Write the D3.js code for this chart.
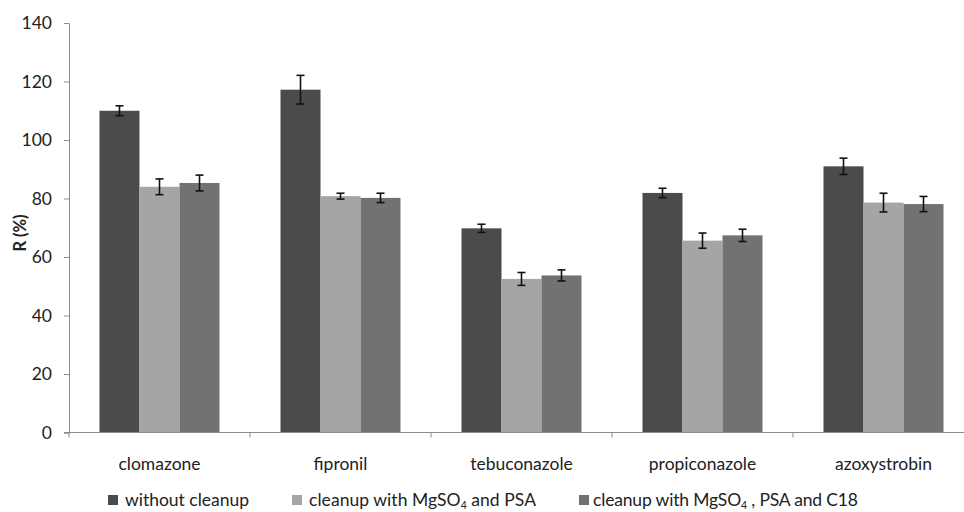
<!DOCTYPE html>
<html>
<head>
<meta charset="utf-8">
<script src="https://cdn.jsdelivr.net/npm/d3@7"></script>
<style>
  body { margin: 0; background: #fff; }
  svg { display: block; font-family: Lato, "Open Sans", sans-serif; }
</style>
</head>
<body>
<div id="chart"></div>
<script>
// Recovery by compound and cleanup procedure
const categories = ["clomazone", "fipronil", "tebuconazole", "propiconazole", "azoxystrobin"];
const seriesNames = ["without cleanup", "cleanup with MgSO4 and PSA", "cleanup with MgSO4 , PSA and C18"];
const withoutCleanup = [110.0, 117.2, 69.8, 81.9, 91.0];
const withoutCleanupErr = [1.7, 4.9, 1.4, 1.6, 2.8];
const mgso4Psa = [84.0, 80.8, 52.5, 65.6, 78.6];
const mgso4PsaErr = [2.7, 1.0, 2.2, 2.6, 3.2];
const mgso4PsaC18 = [85.3, 80.2, 53.7, 67.4, 78.1];
const mgso4PsaC18Err = [2.7, 1.6, 1.9, 2.1, 2.6];
const yTicks = [0, 20, 40, 60, 80, 100, 120, 140];

const width = 964, height = 512;
const colors = ["#4b4b4b", "#a5a5a5", "#727272"];
const fontSize = 17.5;

const values = [withoutCleanup, mgso4Psa, mgso4PsaC18];
const errors = [withoutCleanupErr, mgso4PsaErr, mgso4PsaC18Err];
const rows = [];
categories.forEach((c, i) => {
  seriesNames.forEach((s, j) => {
    rows.push({ cat: c, series: j, value: values[j][i], err: errors[j][i] });
  });
});

const svg = d3.select("#chart").append("svg")
  .attr("width", width)
  .attr("height", height);

// plot area runs past the right edge of the picture, as in the source figure
const x0 = d3.scaleBand().domain(categories).range([69, 974]).paddingInner(0).paddingOuter(0);
const x1 = d3.scaleBand().domain([0, 1, 2]).range([0, 120]);
const y = d3.scaleLinear().domain([0, 140]).range([432.5, 23]);

// Bars
svg.append("g").selectAll("rect")
  .data(rows)
  .join("rect")
  .attr("x", d => x0(d.cat) + (x0.bandwidth() - 120) / 2 + x1(d.series))
  .attr("y", d => y(d.value))
  .attr("width", x1.bandwidth())
  .attr("height", d => y(0) - y(d.value))
  .attr("fill", d => colors[d.series]);

// Error bars
const eb = svg.append("g").attr("stroke", "#111").attr("stroke-width", 1.6);
rows.forEach(d => {
  const cx = x0(d.cat) + (x0.bandwidth() - 120) / 2 + x1(d.series) + x1.bandwidth() / 2;
  eb.append("line").attr("x1", cx).attr("x2", cx).attr("y1", y(d.value + d.err)).attr("y2", y(d.value - d.err));
  eb.append("line").attr("x1", cx - 4).attr("x2", cx + 4).attr("y1", y(d.value + d.err)).attr("y2", y(d.value + d.err));
  eb.append("line").attr("x1", cx - 4).attr("x2", cx + 4).attr("y1", y(d.value - d.err)).attr("y2", y(d.value - d.err));
});

// Y axis
const yAxis = svg.append("g")
  .attr("transform", "translate(69,0)")
  .call(d3.axisLeft(y).tickValues(yTicks).tickSize(5).tickPadding(12));
yAxis.select(".domain").attr("stroke", "#8c8c8c");
yAxis.selectAll(".tick line").attr("stroke", "#8c8c8c");
yAxis.selectAll(".tick text").attr("font-size", fontSize).attr("fill", "#222")
  .attr("font-family", "Lato, 'Open Sans', sans-serif");

// X axis with ticks at category boundaries
const xAxis = svg.append("g").attr("transform", `translate(0,${y(0)})`);
xAxis.append("line").attr("x1", 64).attr("x2", 974).attr("y1", 0).attr("y2", 0).attr("stroke", "#8c8c8c");
xAxis.selectAll(".bound")
  .data(categories)
  .join("line")
  .attr("class", "bound")
  .attr("x1", d => x0(d)).attr("x2", d => x0(d))
  .attr("y1", 0).attr("y2", 5)
  .attr("stroke", "#8c8c8c");
xAxis.selectAll(".cat")
  .data(categories)
  .join("text")
  .attr("class", "cat")
  .attr("x", d => x0(d) + x0.bandwidth() / 2)
  .attr("y", 37)
  .attr("text-anchor", "middle")
  .attr("font-size", fontSize)
  .attr("fill", "#222")
  .text(d => d);

// Y label
svg.append("text")
  .attr("transform", "translate(26,233) rotate(-90)")
  .attr("text-anchor", "middle")
  .attr("font-size", 16.5)
  .attr("font-weight", "bold")
  .attr("fill", "#222")
  .text("R (%)");

// Legend
const legendX = [108, 292, 579];
const legendLen = [124, 227, 265];
const legend = svg.append("g");
seriesNames.forEach((s, j) => {
  const gItem = legend.append("g").attr("transform", `translate(${legendX[j]},506)`);
  gItem.append("rect").attr("x", 0).attr("y", -11).attr("width", 10).attr("height", 10).attr("fill", colors[j]);
  const t = gItem.append("text").attr("x", j === 2 ? 14 : 17).attr("y", 0)
    .attr("font-size", fontSize).attr("fill", "#222")
    .attr("textLength", legendLen[j]).attr("lengthAdjust", "spacing");
  if (j === 0) {
    t.text(s);
  } else {
    t.append("tspan").text("cleanup with MgSO");
    t.append("tspan").attr("font-size", 10.5).attr("dy", 2.5).text("4");
    t.append("tspan").attr("dy", -2.5).text(j === 1 ? " and PSA" : " , PSA and C18");
  }
});
</script>
</body>
</html>
